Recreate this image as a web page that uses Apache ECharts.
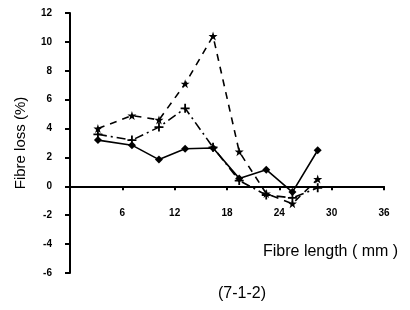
<!DOCTYPE html>
<html>
<head>
<meta charset="utf-8">
<script src="https://cdn.jsdelivr.net/npm/echarts@6/dist/echarts.min.js"></script>
<style>
  html, body { margin: 0; padding: 0; background: #fff; }
  #chart { width: 410px; height: 310px; }
</style>
</head>
<body>
<div id="chart"></div>
<script>
// fibre length (mm) for each point
const lengths = [3.2, 7.1, 10.2, 13.2, 16.4, 19.4, 22.5, 25.5, 28.4]
// fibre loss (%) for the three curves
const lossSolid = [3.2, 2.85, 1.85, 2.6, 2.65, 0.55, 1.15, -0.4, 2.5]
const lossDashed = [4.0, 4.9, 4.6, 7.1, 10.4, 2.4, -0.5, -1.2, 0.5]
const lossDashDot = [3.6, 3.2, 4.1, 5.4, 2.7, 0.4, -0.6, -0.8, -0.1]

const yMin = -6, yMax = 12

const starPath = 'path://M5,0L6.2,3.8L10,3.8L7,6.2L8.1,10L5,7.6L1.9,10L3,6.2L0,3.8L3.8,3.8Z'
const plusPath = 'path://M4,0H6V4H10V6H6V10H4V6H0V4H4Z'

const chart = echarts.init(document.getElementById('chart'))
const font = 'Liberation Sans, Arial, sans-serif'

const pairs = arr => lengths.map((x, i) => [x, arr[i]])

const grid = { left: 70, right: 26, top: 13, bottom: 37 }
const gridH = 310 - grid.top - grid.bottom
// move x axis up to the zero line (labels too)
const zeroOffset = gridH * (0 - yMin) / (yMax - yMin)

const option = {
  animation: false,
  grid: grid,
  xAxis: {
    type: 'value',
    min: 0, max: 36, interval: 6,
    offset: -zeroOffset,
    splitLine: { show: false },
    axisLine: { onZero: false, lineStyle: { color: '#000', width: 2 } },
    axisTick: { show: true, length: 4, lineStyle: { color: '#000', width: 2 } },
    axisLabel: {
      margin: 22, color: '#000', fontSize: 10, fontWeight: 'bold', fontFamily: font,
      showMinLabel: false
    }
  },
  yAxis: {
    type: 'value',
    min: yMin, max: yMax, interval: 2,
    name: 'Fibre loss (%)',
    nameLocation: 'middle',
    nameGap: 42,
    nameTextStyle: { color: '#000', fontSize: 15, fontFamily: font },
    splitLine: { show: false },
    axisLine: { lineStyle: { color: '#000', width: 2 } },
    axisTick: { length: 5, lineStyle: { color: '#000', width: 2 } },
    axisLabel: { margin: 18, color: '#000', fontSize: 10, fontWeight: 'bold', fontFamily: font }
  },
  graphic: [
    {
      type: 'text', left: 263, top: 244,
      style: { text: 'Fibre length ( mm )', fill: '#000', font: '16px ' + font }
    },
    {
      type: 'text', left: 218, top: 286,
      style: { text: '(7-1-2)', fill: '#000', font: '16px ' + font }
    }
  ],
  series: [
    {
      type: 'line', data: pairs(lossSolid),
      symbol: 'diamond', symbolSize: 8,
      itemStyle: { color: '#000' },
      lineStyle: { color: '#000', width: 1.6 }
    },
    {
      type: 'line', data: pairs(lossDashed),
      symbol: starPath, symbolSize: 9,
      itemStyle: { color: '#000' },
      lineStyle: { color: '#000', width: 1.6, type: [7, 6] }
    },
    {
      type: 'line', data: pairs(lossDashDot),
      symbol: plusPath, symbolSize: 9,
      itemStyle: { color: '#000' },
      lineStyle: { color: '#000', width: 1.6, type: [9, 4, 2, 4] }
    }
  ]
}

chart.setOption(option)
</script>
</body>
</html>
